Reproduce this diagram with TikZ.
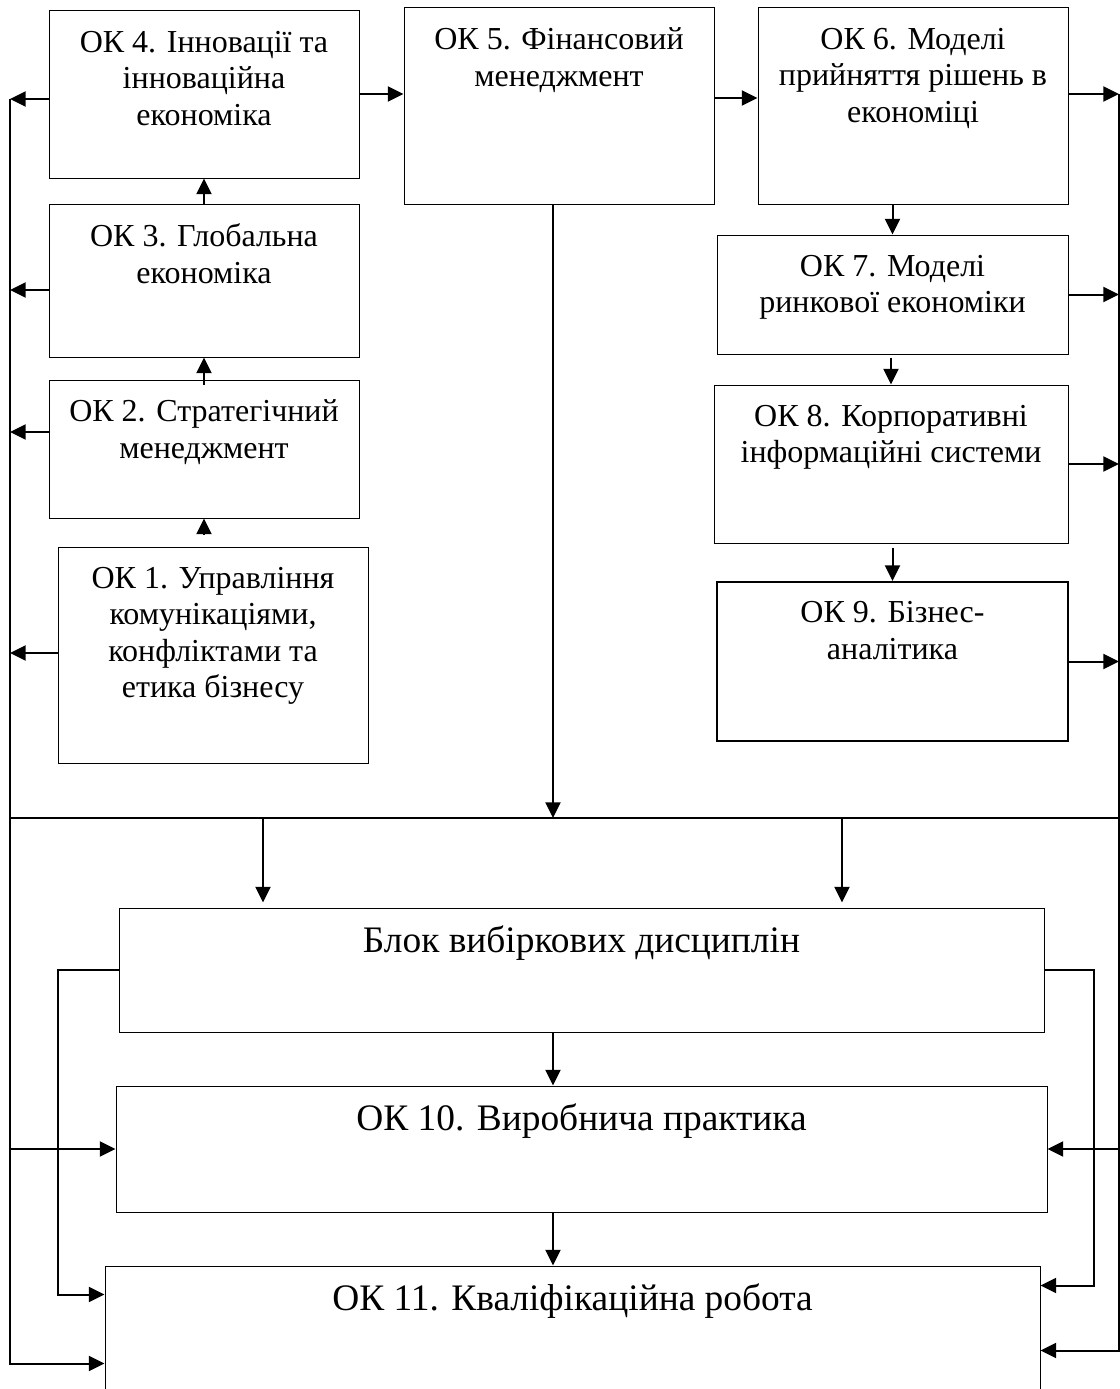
\documentclass[tikz,border=0pt]{standalone}
\usepackage{fontspec}
\setmainfont{Liberation Serif}
\usetikzlibrary{arrows.meta}
\begin{document}
\begin{tikzpicture}[x=0.5pt,y=-0.5pt,
  box/.style={draw, line width=0.5pt, inner sep=0pt},
  lbl/.style={anchor=north, align=center, inner sep=0pt, font=\fontsize{16}{18.25}\selectfont, execute at begin node={\rule{0pt}{13pt}}},
  blbl/.style={anchor=north, align=center, inner sep=0pt, font=\fontsize{18.7}{21}\selectfont, execute at begin node={\rule{0pt}{14pt}}},
  conn/.style={line width=1pt},
  arr/.style={line width=1pt, -{Triangle[length=7.8pt,width=7.5pt]}}]
\useasboundingbox (0,0) rectangle (1120,1389);
\fill[white] (0,0) rectangle (1120,1389);
\clip (0,0) rectangle (1120,1389);
% boxes
\node[box, minimum width=155pt, minimum height=84pt] (ok4) at (204,94) {};
\node[box, minimum width=155pt, minimum height=76.5pt] (ok3) at (204,280.5) {};
\node[box, minimum width=155pt, minimum height=69pt] (ok2) at (204,449) {};
\node[box, minimum width=155pt, minimum height=108pt] (ok1) at (213,655) {};
\node[box, minimum width=155pt, minimum height=98.5pt] (ok5) at (559,105.5) {};
\node[box, minimum width=155pt, minimum height=98.5pt] (ok6) at (913,105.5) {};
\node[box, minimum width=175.5pt, minimum height=59.5pt] (ok7) at (892.5,294.5) {};
\node[box, minimum width=177pt, minimum height=79pt] (ok8) at (891,464) {};
\node[box, line width=1pt, minimum width=175.5pt, minimum height=79.5pt] (ok9) at (892.5,661.5) {};
\node[box, minimum width=462.5pt, minimum height=62pt] (blok) at (581.5,970) {};
\node[box, minimum width=465.5pt, minimum height=63pt] (ok10) at (581.5,1149) {};
\node[box, minimum width=467.5pt, minimum height=82pt] (ok11) at (572.5,1348) {};
% labels
\node[lbl] (t4) at ([yshift=-10.5pt]ok4.north) {ОК 4. Інновації та\\інноваційна\\економіка};
\node[lbl] (t3) at ([yshift=-10pt]ok3.north) {ОК 3. Глобальна\\економіка};
\node[lbl] (t2) at ([yshift=-10pt]ok2.north) {ОК 2. Стратегічний\\менеджмент};
\node[lbl] (t1) at ([yshift=-10pt]ok1.north) {ОК 1. Управління\\комунікаціями,\\конфліктами та\\етика бізнесу};
\node[lbl] (t5) at ([yshift=-10.5pt]ok5.north) {ОК 5. Фінансовий\\менеджмент};
\node[lbl] (t6) at ([yshift=-10.5pt]ok6.north) {ОК 6. Моделі\\прийняття рішень в\\економіці};
\node[lbl] (t7) at ([yshift=-10pt]ok7.north) {ОК 7. Моделі\\ринкової економіки};
\node[lbl] (t8) at ([yshift=-10pt]ok8.north) {ОК 8. Корпоративні\\інформаційні системи};
\node[lbl] (t9) at ([yshift=-10pt]ok9.north) {ОК 9. Бізнес-\\аналітика};
\node[blbl] (tb) at ([yshift=-8.5pt]blok.north) {Блок вибіркових дисциплін};
\node[blbl] (t10) at ([yshift=-8.5pt]ok10.north) {ОК 10. Виробнича практика};
\node[blbl] (t11) at ([yshift=-8.5pt]ok11.north) {ОК 11. Кваліфікаційна робота};
% rail coordinates
\coordinate (Ltop) at (10,99);
\coordinate (Rtop) at (1119,94);
\coordinate (HL) at (10,818);
\coordinate (HR) at (1119,818);
\coordinate (m) at (553,818);
\coordinate (d1) at (263,818);
\coordinate (d2) at (842,818);
\coordinate (IL) at (58,970);
\coordinate (IR) at (1094,970);
\coordinate (e1) at ([yshift=-49pt]ok11.north west);
\coordinate (e2) at ([yshift=-42.5pt]ok11.north east);
\coordinate (e3) at ([yshift=-14.5pt]ok11.north west);
\coordinate (e4) at ([yshift=-10pt]ok11.north east);
\coordinate (s4) at ([yshift=-2.5pt]ok4.west);
\coordinate (s3) at ([yshift=-4.75pt]ok3.west);
\coordinate (s2) at ([yshift=8.5pt]ok2.west);
\coordinate (s1) at ([yshift=1pt]ok1.west);
\coordinate (s6) at ([yshift=5.75pt]ok6.east);
\coordinate (s5) at ([yshift=3.75pt]ok5.east);
% rails
\draw[arr] (Ltop) -- (Ltop |- e1) -- (e1);
\draw[arr] (Rtop) -- (Rtop |- e2) -- (e2);
\draw[conn] (HL) -- (HR);
% left arrows
\draw[arr] (s4) -- (s4 -| Ltop);
\draw[arr] (s3) -- (s3 -| Ltop);
\draw[arr] (s2) -- (s2 -| Ltop);
\draw[arr] (s1) -- (s1 -| Ltop);
% right arrows
\draw[arr] (s6) -- (s6 -| Rtop);
\draw[arr] (ok7.east) -- (ok7.east -| Rtop);
\draw[arr] (ok8.east) -- (ok8.east -| Rtop);
\draw[arr] (ok9.east) -- (ok9.east -| Rtop);
% top chain
\draw[arr] (ok4.east) -- (ok4.east -| ok5.west);
\draw[arr] (s5) -- (s5 -| ok6.west);
\draw[arr] (ok3.north) -- (ok4.south);
\draw[arr, shorten <=-2.5pt] (ok2.north) -- (ok3.south);
\draw[arr, shorten <=6.5pt] (ok1.north -| ok2.south) -- (ok2.south);
\draw[arr] (ok6.south -| ok7.north) -- (ok7.north);
\draw[arr, shorten <=1.5pt] (ok7.south -| ok8.north) -- (ok8.north);
\draw[arr, shorten <=2pt] (ok8.south -| ok9.north) -- (ok9.north);
\draw[arr] (ok5.south -| m) -- (m);
% bottom
\draw[arr, shorten >=2.5pt] (d1) -- (d1 |- blok.north);
\draw[arr, shorten >=2.5pt] (d2) -- (d2 |- blok.north);
\draw[arr] (blok.south -| m) -- (ok10.north -| m);
\draw[arr] (ok10.south -| m) -- (ok11.north -| m);
\draw[arr] (blok.west) -- (IL) |- (e3);
\draw[arr] (blok.east) -- (IR) |- (e4);
\draw[arr] (ok10.west -| Ltop) -- (ok10.west);
\draw[arr] (ok10.east -| Rtop) -- (ok10.east);
\end{tikzpicture}
\end{document}
